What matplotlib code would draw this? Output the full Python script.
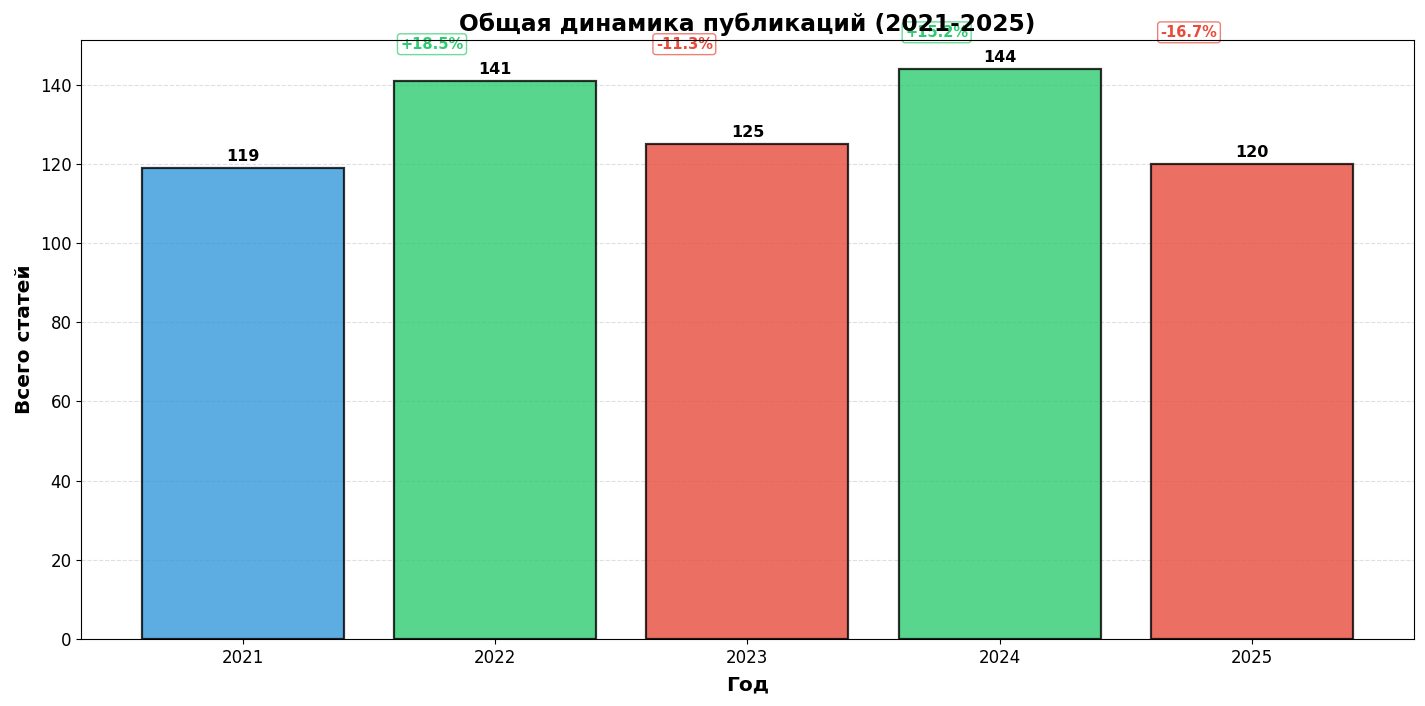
import numpy as np
import matplotlib
matplotlib.use('Agg')
import matplotlib.pyplot as plt

years = [2021, 2022, 2023, 2024, 2025]
totals = [119, 141, 125, 144, 120]

# цвета: первый год синий, дальше рост зелёный, падение красный
colors = ['#3498db']
for i in range(1, len(totals)):
    colors.append('#2ecc71' if totals[i] >= totals[i - 1] else '#e74c3c')

fig, ax = plt.subplots(figsize=(14.25, 7.06), dpi=100)
x = np.arange(len(years))
bars = ax.bar(x, totals, color=colors, alpha=0.8, edgecolor='black', linewidth=1.6)

for b, v in zip(bars, totals):
    ax.text(b.get_x() + b.get_width() / 2, v + 1, str(v),
            ha='center', va='bottom', fontsize=11.5, fontweight='bold')

for i in range(1, len(totals)):
    ch = (totals[i] - totals[i - 1]) / totals[i - 1] * 100
    c = '#2ecc71' if ch >= 0 else '#e74c3c'
    ax.text(i - 0.25, max(totals[i], totals[i - 1]) + 9.2, f'{ch:+.1f}%',
            ha='center', va='center', fontsize=10.5, fontweight='bold', color=c,
            bbox=dict(boxstyle='round,pad=0.2', facecolor='white', edgecolor=c, alpha=0.7),
            clip_on=False, zorder=1)

ax.set_xticks(x)
ax.set_xticklabels([str(y) for y in years], fontsize=12)
ax.tick_params(axis='y', labelsize=12)
ax.set_ylim(0, max(totals) * 1.05)
ax.set_xlabel('Год', fontsize=14.5, fontweight='bold', labelpad=6)
ax.set_ylabel('Всего статей', fontsize=14.5, fontweight='bold')
ax.set_title('Общая динамика публикаций (2021-2025)', fontsize=16.8, fontweight='bold', pad=7)
ax.grid(axis='y', alpha=0.4, linestyle='--')
ax.set_axisbelow(True)

plt.subplots_adjust(left=0.057, right=0.992, top=0.943, bottom=0.095)
plt.savefig('out.png', dpi=100)
